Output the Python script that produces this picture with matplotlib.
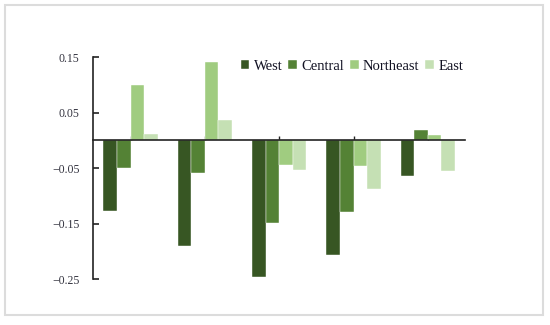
import matplotlib
matplotlib.use("Agg")
import matplotlib.pyplot as plt
import numpy as np
from matplotlib.patches import Rectangle

categories = ["1", "2", "3", "4", "5"]
series_names = ["West", "Central", "Northeast", "East"]
west = [-0.128, -0.190, -0.246, -0.206, -0.064]
central = [-0.050, -0.058, -0.149, -0.129, 0.018]
northeast = [0.100, 0.142, -0.044, -0.046, 0.009]
east = [0.011, 0.037, -0.053, -0.088, -0.055]
yticks = [0.15, 0.05, -0.05, -0.15, -0.25]
colors = ["#375623", "#548235", "#A0CC80", "#C5E0B4"]

plt.rcParams["font.family"] = ["Liberation Serif", "DejaVu Serif"]

fig = plt.figure(figsize=(5.5, 3.25), dpi=100)
ax = fig.add_axes([0.1697, 0.1415, 0.6758, 0.6822])

x = np.arange(len(categories))
w = 0.182
data = [west, central, northeast, east]
for i, (name, vals, c) in enumerate(zip(series_names, data, colors)):
    ax.bar(x + (i - 1.5) * w, vals, width=w, color=c, label=name,
           edgecolor="white", linewidth=0.3, zorder=2)

ax.set_xlim(-0.5, len(categories) - 0.5)
ax.set_ylim(-0.25, 0.15)
ax.set_yticks(yticks)
ax.set_yticklabels([("\u2212" if v < 0 else "") + f"{abs(v):.2f}" for v in yticks])
ax.set_xticks(x)
ax.set_xticklabels([])

for s in ["top", "right"]:
    ax.spines[s].set_visible(False)
ax.spines["bottom"].set_position(("data", 0))
ax.spines["bottom"].set_zorder(3)
for s in ["left", "bottom"]:
    ax.spines[s].set_color("#222222")
    ax.spines[s].set_linewidth(1.2)
ax.tick_params(axis="y", direction="in", length=4, width=1.2, color="#222222",
               labelsize=8.5, labelcolor="#33333f", pad=10)
ax.tick_params(axis="x", direction="in", length=3, width=1.0, color="#222222")

leg = ax.legend(loc="center", bbox_to_anchor=(352 / 550, 1 - 66 / 325),
                bbox_transform=fig.transFigure, ncol=4, frameon=False,
                fontsize=10.5, handlelength=0.6, handleheight=0.6,
                handletextpad=0.3, columnspacing=0.4, borderpad=0)
for t in leg.get_texts():
    t.set_color("#111122")

fig.patches.append(Rectangle((5 / 550, 1 - 315 / 325), 538 / 550, 310 / 325,
                             transform=fig.transFigure, fill=False,
                             edgecolor="#dcdcdc", linewidth=1.5))

fig.savefig("out.png", dpi=100)
